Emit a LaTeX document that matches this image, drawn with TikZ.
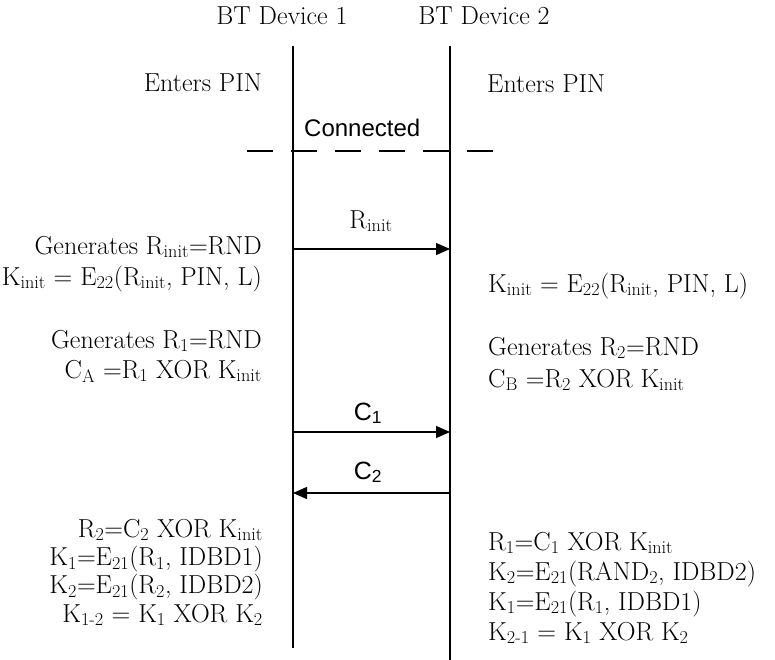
\documentclass[tikz,border=0pt]{standalone}
\usepackage{fontspec}
\newfontfamily\arialfont{Liberation Sans}
\usetikzlibrary{arrows.meta, positioning}
\newcommand{\sub}[1]{\textsubscript{#1}}

\begin{document}
\begin{tikzpicture}[x=1pt, y=-1pt, >={Triangle[length=14pt, width=12pt]},
		every node/.style={inner sep=0pt, font=\fontsize{26}{30}\selectfont},
		lefttext/.style={anchor=base east, align=right},
		righttext/.style={anchor=base west, align=left},
		lifeline/.style={line width=1.6pt},
		msg/.style={->, line width=1.3pt},
		msglabel/.style={anchor=base, font=\arialfont\fontsize{25}{30}\selectfont}]
		
		\useasboundingbox (0,0) rectangle (775,660);
		
		% the two devices
		\node[anchor=base] (dev1) at (282,25) {BT Device 1};
		\node[anchor=base] (dev2) at (484,25) {BT Device 2};
		\coordinate (d1top) at (293,46);
		\coordinate (d1bot) at (293,648);
		\coordinate (d2top) at (450,46);
		\coordinate (d2bot) at (450,660);
		\draw[lifeline] (d1top) -- (d1bot);
		\draw[lifeline] (d2top) -- (d2bot);
		
		\node[lefttext] (pinL) at (262,92) {Enters PIN};
		\node[righttext] (pinR) at (487,93) {Enters PIN};
		
		% connection set up
		\node[anchor=base west, font=\arialfont\fontsize{24}{30}\selectfont] (conn) at (304,137) {Connected};
		\coordinate (connL) at (247,151);
		\coordinate (connR) at (493,151);
		\draw[line width=1.6pt, dash pattern=on 26pt off 18pt] (connL) -- (connR);
		
		% messages
		\coordinate (rinit1) at (293,249);
		\coordinate (rinit2) at (450,249);
		\coordinate (c1a) at (293,432);
		\coordinate (c1b) at (450,432);
		\coordinate (c2a) at (450,493);
		\coordinate (c2b) at (293,493);
		\draw[msg] (rinit1) -- (rinit2);
		\draw[msg] (c1a) -- (c1b);
		\draw[msg] (c2a) -- (c2b);
		\node[anchor=base] (rinitlbl) at (371,228) {R\sub{init}};
		\node[msglabel] (c1lbl) at (368,420) {C\sub{1}};
		\node[msglabel] (c2lbl) at (368,479) {C\sub{2}};
		
		% device 1 side (base = last line)
		\node[lefttext, font=\fontsize{26}{31}\selectfont] (genL) at (262,285)
		{Generates R\sub{init}=RND\\K\sub{init} = E\sub{22}(R\sub{init}, PIN, L)};
		\node[lefttext] (rndL) at (262,378)
		{Generates R\sub{1}=RND\\C\sub{A} =R\sub{1} XOR K\sub{init}};
		\node[lefttext, font=\fontsize{26}{28.3}\selectfont] (keyL) at (263,622)
		{R\sub{2}=C\sub{2} XOR K\sub{init}\\K\sub{1}=E\sub{21}(R\sub{1}, IDBD1)\\K\sub{2}=E\sub{21}(R\sub{2}, IDBD2)\\K\sub{1-2} = K\sub{1} XOR K\sub{2}};
		
		% device 2 side
		\node[righttext] (kinitR) at (488,292) {K\sub{init} = E\sub{22}(R\sub{init}, PIN, L)};
		\node[righttext, font=\fontsize{26}{32}\selectfont] (rndR) at (488,387)
		{Generates R\sub{2}=RND\\C\sub{B} =R\sub{2} XOR K\sub{init}};
		\node[righttext] (keyR) at (488,640)
		{R\sub{1}=C\sub{1} XOR K\sub{init}\\K\sub{2}=E\sub{21}(RAND\sub{2}, IDBD2)\\K\sub{1}=E\sub{21}(R\sub{1}, IDBD1)\\K\sub{2-1} = K\sub{1} XOR K\sub{2}};
	\end{tikzpicture}
\end{document}
